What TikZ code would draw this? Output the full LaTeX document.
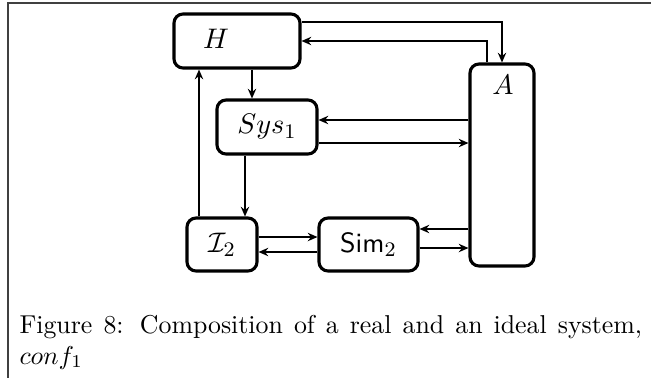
\documentclass[tikz,border=0pt]{standalone}
\usetikzlibrary{arrows.meta,calc}
\def\u{0.3871pt}
\tikzset{
  boxnode/.style={draw, line width=1.2pt, rounded corners=3.5pt, inner sep=0pt, font=\fontsize{10.8}{13}\selectfont},
  lbl/.style={inner sep=0pt, font=\fontsize{10.8}{13}\selectfont},
  conn/.style={line width=0.45pt, -{Stealth[length=3.8pt,width=3.3pt,inset=1.3pt]}},
  framel/.style={line width=0.5pt, black!75}
}
\begin{document}
\begin{tikzpicture}[x=0.3871pt, y=-0.3871pt]
\useasboundingbox (0,0) rectangle (651,378);
% frame
\draw[framel] (651,3) -- (8,3) -- (8,378);
% boxes
\node[boxnode, minimum width=126*\u, minimum height=54*\u] (H) at (237,41) {};
\node[lbl] (Hl) at (216,39) {$H$};
\node[boxnode, minimum width=64*\u, minimum height=202*\u] (A) at (502,165) {};
\node[lbl] (Al) at (503,85) {$A$};
\node[boxnode, minimum width=100*\u, minimum height=54*\u] (S) at (267,127) {$Sys_1$};
\node[boxnode, minimum width=70*\u, minimum height=53*\u] (I) at (222,244.5) {$\mathcal{I}_2$};
\node[boxnode, minimum width=99*\u, minimum height=53*\u] (M) at (368.5,244.5) {$\textsf{Sim}_2$};
% connectors
\draw[conn] (H.east |- 0,22) -| (A.north);
\draw[conn] (A.north -| 487,0) |- (H.east);
\draw[conn] (H.south -| 252,0) -- (S.north -| 252,0);
\draw[conn] (A.west |- 0,120) -- (S.east |- 0,120);
\draw[conn] (S.east |- 0,143) -- (A.west |- 0,143);
\draw[conn] (S.south -| 245,0) -- (I.north -| 245,0);
\draw[conn] (I.north -| 199,0) -- (H.south -| 199,0);
\draw[conn] (I.east |- 0,237) -- (M.west |- 0,237);
\draw[conn] (M.west |- 0,252) -- (I.east |- 0,252);
\draw[conn] (A.west |- 0,229) -- (M.east |- 0,229);
\draw[conn] (M.east |- 0,248) -- (A.west |- 0,248);
% caption
\node[lbl, font=\normalsize, anchor=base west] (cap) at (19,333) {\parbox[t]{241pt}{Figure 8: Composition of a real and an ideal system, $conf_1$}};
\end{tikzpicture}
\end{document}
